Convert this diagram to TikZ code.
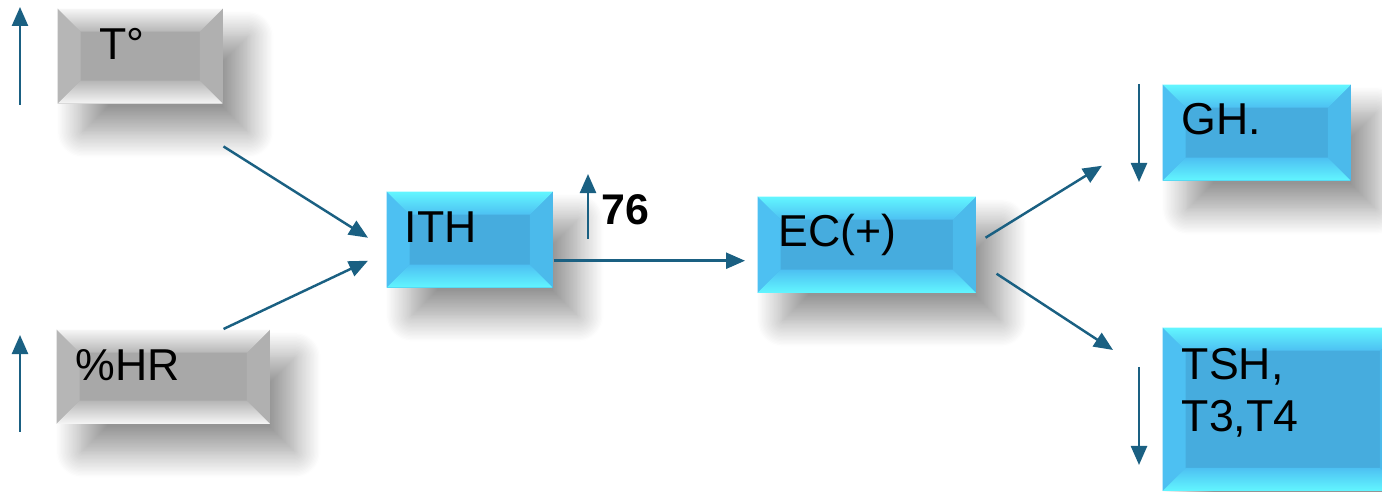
\documentclass[tikz,border=0pt]{standalone}
\usepackage{fontspec}
\setmainfont{Liberation Sans}
\usetikzlibrary{arrows.meta,calc,shadows.blur}

\definecolor{flowblue}{RGB}{26,96,130}
\definecolor{greyface}{RGB}{168,168,168}
\definecolor{greylight}{RGB}{246,246,246}
\definecolor{greyside}{RGB}{182,182,182}
\definecolor{cyanface}{RGB}{70,172,222}
\definecolor{cyanlight}{RGB}{98,246,255}
\definecolor{cyanside}{RGB}{77,192,242}

\tikzset{
  bevelbox/.style n args={3}{rectangle, anchor=north west, inner sep=0pt,
    blur shadow={shadow xshift=0.25cm, shadow yshift=-0.28cm,
      shadow blur radius=0.26cm, shadow blur steps=20, shadow opacity=42},
    path picture={
      \coordinate (bnw) at (path picture bounding box.north west);
      \coordinate (bse) at (path picture bounding box.south east);
      \coordinate (bne) at (bse |- bnw);
      \coordinate (bsw) at (bnw |- bse);
      \coordinate (inw) at ($(bnw)+(0.23cm,-0.23cm)$);
      \coordinate (ine) at ($(bne)+(-0.23cm,-0.23cm)$);
      \coordinate (ise) at ($(bse)+(-0.23cm,0.23cm)$);
      \coordinate (isw) at ($(bsw)+(0.23cm,0.23cm)$);
      \fill[#1] (bnw) rectangle (bse);
      \fill[#3] (bnw) -- (inw) -- (isw) -- (bsw) -- cycle;
      \fill[#3!97!black] (bne) -- (ine) -- (ise) -- (bse) -- cycle;
      \shade[top color=#2, bottom color=#3] (bnw) -- (bne) -- (ine) -- (inw) -- cycle;
      \shade[top color=#3, bottom color=#2] (bsw) -- (bse) -- (ise) -- (isw) -- cycle;
    }},
  greybox/.style={bevelbox={greyface}{greylight}{greyside}},
  cyanbox/.style={bevelbox={cyanface}{cyanlight}{cyanside}},
  boxtext/.style={anchor=base west, inner sep=0pt, align=left,
    font=\fontsize{12.7}{14.8}\selectfont},
  flow/.style={draw=flowblue, line width=0.7pt,
    -{Triangle[length=0.19cm,width=0.16cm]}},
}

\begin{document}
\begin{tikzpicture}[x=0.01cm, y=-0.01cm]
\useasboundingbox (0,0) rectangle (1382,492);

% boxes
\node[greybox, minimum width=1.65cm, minimum height=0.95cm] (t) at (57,8) {};
\node[greybox, minimum width=2.13cm, minimum height=0.94cm] (hr) at (56,329) {};
\node[cyanbox, minimum width=1.66cm, minimum height=0.96cm] (ith) at (386,191) {};
\node[cyanbox, minimum width=2.18cm, minimum height=0.96cm] (ec) at (757,196) {};
\node[cyanbox, minimum width=1.88cm, minimum height=0.96cm] (gh) at (1162,84) {};
\node[cyanbox, minimum width=2.40cm, minimum height=1.63cm] (tsh) at (1162,327) {};

% texts
\node[boxtext] (t-txt) at ([shift={(42,52)}]t.north west) {T°};
\node[boxtext] (hr-txt) at ([shift={(19,52)}]hr.north west) {\%HR};
\node[boxtext] (ith-txt) at ([shift={(18,52)}]ith.north west) {ITH};
\node[boxtext] (ec-txt) at ([shift={(21,51)}]ec.north west) {EC(+)};
\node[boxtext] (gh-txt) at ([shift={(19,51)}]gh.north west) {GH.};
\node[boxtext] (tsh-txt) at ([shift={(19,105)}]tsh.north west) {TSH,\\T3,T4};
\node[anchor=base west, inner sep=0pt, font=\fontsize{12.2}{14}\selectfont\bfseries]
  (n76) at (601,225) {76};

% connectors
\draw[flow] ([shift={(0,42)}]t.south east) -- ([shift={(-18,-2)}]ith.west);
\draw[flow] ([shift={(-47,0)}]hr.north east) -- ([shift={(-18,21)}]ith.west);
\draw[flow] ([shift={(0,21)}]ith.east) -- ([shift={(-12,16)}]ec.west);
\draw[flow] ([shift={(9,-7)}]ec.east) -- ([shift={(-60,33)}]gh.west);
\draw[flow] ([shift={(20,29)}]ec.east) -- ([shift={(-49,23)}]tsh.north west);

% up / down marks
\coordinate (t-up) at (20,105);
\coordinate (hr-up) at (20,432);
\coordinate (n76-up) at (588,239);
\coordinate (gh-down) at (1139,84);
\coordinate (tsh-down) at (1139,367);
\draw[flow] (t-up) -- ++(0,-98);
\draw[flow] (hr-up) -- ++(0,-97);
\draw[flow] (n76-up) -- ++(0,-65);
\draw[flow] (gh-down) -- ++(0,98);
\draw[flow] (tsh-down) -- ++(0,98);
\end{tikzpicture}
\end{document}
